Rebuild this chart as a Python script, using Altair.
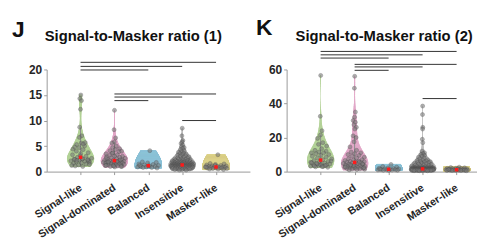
import json
import numpy as np
import pandas as pd
import altair as alt

CATEGORIES = ["Signal-like", "Signal-dominated", "Balanced", "Insensitive", "Masker-like"]
FILLS = ["#d3e9bf", "#f7d0e4", "#c2e4f1", "#e6e6e6", "#f7f0b8"]
STROKES = ["#b2d296", "#e2a7c7", "#8ec4d8", "#bdbdbd", "#dcd189"]

PANEL_LETTERS = ["J", "K"]
PANEL_TITLES = ["Signal-to-Masker ratio (1)", "Signal-to-Masker ratio (2)"]

# ---- Panel J values ----
J_SIGNAL_LIKE = [15.0, 14.3, 13.9, 12.2, 8.7, 7.0, 6.7, 5.7, 5.6, 5.3, 5.0, 4.7, 4.4, 4.3,
                 4.0, 3.7, 3.5, 3.3, 3.0, 2.8, 2.6, 2.5, 2.4, 2.3, 2.2, 2.1, 2.0, 1.9, 1.8,
                 1.7, 1.6, 1.5, 1.3, 1.2, 1.0, 2.4, 2.0, 3.1, 4.8, 5.4, 2.2, 1.4, 2.5, 1.1, 2.3]
J_SIGNAL_DOM = [12.0, 8.2, 6.6, 5.8, 5.6, 5.0, 4.7, 4.5, 4.3, 4.1, 3.9, 3.7, 3.5, 3.3, 3.2,
                3.0, 3.0, 2.9, 2.8, 2.7, 2.6, 2.5, 2.4, 2.3, 2.2, 2.2, 2.1, 2.1, 2.0, 2.0,
                1.9, 1.9, 1.8, 1.8, 1.8, 1.7, 1.7, 1.6, 1.6, 1.5, 1.5, 1.4, 1.4, 1.3, 1.3,
                1.2, 1.2, 1.1, 1.0, 1.0, 0.9, 2.6, 2.3, 3.6, 4.0, 2.0, 1.9, 1.0, 1.1, 1.2]
J_BALANCED = [4.1, 1.9, 1.8, 1.7, 1.5, 1.4, 1.3, 1.2, 1.1, 1.0, 1.0, 0.9, 0.9, 0.8, 0.8,
              0.7, 1.1, 1.2]
J_INSENSITIVE = [8.5, 7.0, 6.1, 5.8, 5.5, 5.2, 4.9, 4.7, 4.5, 4.3, 4.1, 3.9, 3.8, 3.6, 3.5,
                 3.4, 3.3, 3.2, 3.1, 3.0, 2.9, 2.8, 2.7, 2.6,
                 2.5, 2.5, 2.4, 2.4, 2.3, 2.3, 2.2, 2.2, 2.1, 2.1, 2.0, 2.0, 2.0, 1.9, 1.9,
                 1.9, 1.8, 1.8, 1.8, 1.7, 1.7, 1.7, 1.7, 1.6, 1.6, 1.6, 1.6, 1.5, 1.5, 1.5,
                 1.5, 1.5, 1.4, 1.4, 1.4, 1.4, 1.4, 1.35, 1.35, 1.35, 1.35,
                 1.25, 1.25, 1.25, 1.25, 1.25, 1.2, 1.2, 1.2, 1.2, 1.2, 1.15, 1.15, 1.15,
                 1.15, 1.15, 1.1, 1.1, 1.1, 1.1, 1.1, 1.05, 1.05, 1.05, 1.05, 1.05, 1.0,
                 1.0, 1.0, 1.0, 1.0, 0.95, 0.95, 0.95, 0.95, 0.9, 0.9, 0.9, 0.9, 0.85,
                 0.85, 0.85, 0.85, 0.8, 0.8, 0.8, 0.8, 0.75, 0.75, 0.75, 0.7, 0.7, 0.7,
                 0.65, 0.65, 0.65, 0.6, 0.6, 0.6, 0.5, 0.5, 0.5, 0.4, 0.4, 0.3, 0.3]
J_MASKER_LIKE = [3.3, 1.6, 1.5, 1.4, 1.3, 1.2, 1.1, 1.1, 1.0, 1.0, 0.9, 0.9, 0.9, 0.8, 0.8,
                 0.8, 0.7, 0.7, 0.7, 0.6, 0.6, 0.5, 0.5, 0.4, 1.2, 0.9]

# ---- Panel K values ----
K_SIGNAL_LIKE = [56.5, 32.5, 24.0, 21.5, 19.5, 17.0, 16.0, 15.0, 13.5, 12.5, 12.0, 11.5, 11.0,
                 11.0, 10.5, 10.0, 9.5, 9.0, 8.5, 8.0, 7.5, 7.0, 6.5, 6.0, 5.8, 5.5, 5.0,
                 4.8, 4.5, 4.2, 4.0, 3.8, 3.5, 3.2, 3.0, 2.8, 2.5, 4.0, 5.2, 3.6, 4.6, 6.2,
                 2.9, 3.3]
K_SIGNAL_DOM = [56.0, 49.0, 35.0, 32.0, 30.0, 29.0, 27.5, 26.0, 25.0, 21.0, 20.0, 17.5, 14.5,
                12.5, 11.5, 11.0, 10.5, 10.0, 9.5, 9.0, 8.5, 8.0, 7.5, 7.0, 6.8, 6.5, 6.2,
                6.0, 5.8, 5.6, 5.4, 5.2, 5.0, 4.8, 4.6, 4.4, 4.2, 4.0, 3.8, 3.6, 3.4, 3.2,
                3.0, 3.0, 2.8, 2.6, 2.5, 2.4, 2.2, 2.0, 2.0, 1.8, 1.6, 1.5, 1.4, 1.2, 1.0,
                4.5, 3.5, 2.8, 5.5, 3.9, 2.3]
K_BALANCED = [4.2, 3.0, 2.6, 2.2, 2.0, 1.8, 1.6, 1.5, 1.3, 1.2, 1.1, 1.0, 1.0, 0.9, 0.8,
              0.8, 0.7, 1.4]
K_INSENSITIVE = [38.5, 33.5, 26.0, 25.0, 19.0, 17.0, 12.0, 11.0, 10.5, 10.0, 9.5, 9.0, 8.5,
                 8.0, 7.5, 7.0, 6.8, 6.5, 6.2, 6.0, 5.8, 5.6, 5.4, 5.2, 5.0, 4.8, 4.6, 4.4,
                 4.2, 4.0, 3.8, 3.6, 3.4, 3.2, 3.0, 2.9, 2.8, 2.7, 2.6, 2.5,
                 2.4, 2.4, 2.3, 2.3, 2.2, 2.2, 2.1, 2.1, 2.0, 2.0, 2.0, 1.9, 1.9, 1.9, 1.8,
                 1.8, 1.8, 1.7, 1.7, 1.7, 1.7, 1.65, 1.65, 1.65, 1.6,
                 1.55, 1.55, 1.55, 1.55, 1.5, 1.5, 1.5, 1.5, 1.45, 1.45, 1.45, 1.45, 1.4,
                 1.4, 1.4, 1.4, 1.35, 1.35, 1.35, 1.35, 1.3, 1.3, 1.3, 1.3, 1.25, 1.25,
                 1.25, 1.25, 1.2, 1.2, 1.2, 1.2, 1.15, 1.15, 1.15, 1.15, 1.1, 1.1, 1.1,
                 1.1, 1.0, 1.0, 1.0, 1.0, 0.95, 0.95, 0.95, 0.9, 0.9, 0.9, 0.85, 0.85,
                 0.85, 0.8, 0.8, 0.8, 0.7, 0.7, 0.7, 0.6, 0.6, 0.6, 0.5, 0.5, 0.5]
K_MASKER_LIKE = [2.6, 2.4, 2.2, 2.0, 1.9, 1.8, 1.7, 1.6, 1.5, 1.4, 1.3, 1.2, 1.2, 1.1, 1.1,
                 1.0, 1.0, 1.0, 0.9, 0.9, 0.9, 0.8, 0.8, 0.8, 0.7, 0.7, 0.6, 0.6, 0.5, 1.5,
                 1.3]

J_GROUPS = [J_SIGNAL_LIKE, J_SIGNAL_DOM, J_BALANCED, J_INSENSITIVE, J_MASKER_LIKE]
K_GROUPS = [K_SIGNAL_LIKE, K_SIGNAL_DOM, K_BALANCED, K_INSENSITIVE, K_MASKER_LIKE]

# significance bars: (from category, to category, height)
J_SIG_FROM = [0, 0, 0, 1, 1, 1, 3]
J_SIG_TO = [4, 3, 2, 4, 3, 2, 4]
J_SIG_Y = [21.4, 20.6, 19.9, 15.2, 14.6, 13.9, 10.0]
K_SIG_FROM = [0, 0, 0, 1, 1, 1, 3]
K_SIG_TO = [4, 3, 2, 4, 3, 2, 4]
K_SIG_Y = [70.6, 68.6, 66.7, 63.0, 61.5, 59.5, 42.9]

J_YTICKS = [0, 5, 10, 15, 20]
K_YTICKS = [0, 20, 40, 60]

# kernel bandwidths per violin
J_BW = [1.5, 1.5, 2.5, 1.3, 2.5]
K_BW = [6.0, 6.0, 5.0, 4.0, 4.0]
HALF_WIDTH = 0.4
FONT = "Liberation Sans"


def kde(vals, bw, grid):
    v = np.asarray(vals, dtype=float)[:, None]
    g = np.asarray(grid, dtype=float)[None, :]
    return np.exp(-0.5 * ((g - v) / bw) ** 2).sum(axis=0)


def build_tables(groups, bws):
    vrows, prows = [], []
    for ci, (vals, bw) in enumerate(zip(groups, bws)):
        lo, hi = min(vals), max(vals)
        grid = np.linspace(lo, hi, 150)
        d = kde(vals, bw, grid)
        dmax = d.max()
        for g, dd in zip(grid, d):
            w = HALF_WIDTH * dd / dmax
            vrows.append({"name": CATEGORIES[ci], "cat": ci, "y": g, "x1": ci - w, "x2": ci + w})
        dv = kde(vals, bw, vals)
        for i, (v, dd) in enumerate(zip(vals, dv)):
            u = (((i + 1) * 0.6180339887) % 1.0) * 2 - 1
            w = HALF_WIDTH * dd / dmax
            prows.append({"name": CATEGORIES[ci], "cat": ci, "value": v, "xj": ci + u * w * 0.85})
    return pd.DataFrame(vrows), pd.DataFrame(prows)


def panel(groups, bws, sig_from, sig_to, sig_y, yticks, ymax, xmax, width,
          letter, title, letter_dx, letter_dy, title_dx, title_dy):
    vdf, pdf = build_tables(groups, bws)
    sdf = pd.DataFrame({"a": sig_from, "b": sig_to, "y": sig_y})
    xscale = alt.Scale(domain=[-1, xmax], nice=False, zero=False)
    yscale = alt.Scale(domain=[0, ymax], nice=False)
    xaxis = alt.Axis(values=list(range(len(CATEGORIES))),
                     labelExpr=json.dumps(CATEGORIES) + "[datum.value]",
                     labelAngle=-33, labelAlign="right", labelBaseline="middle",
                     labelPadding=12, labelOverlap=False, labelFontSize=10.8, title=None)
    yaxis = alt.Axis(values=yticks, title=None, labelPadding=2)

    def X(field):
        return alt.X(field, scale=xscale, axis=xaxis)

    def Y(field):
        return alt.Y(field, scale=yscale, axis=yaxis)

    violins = alt.Chart(vdf).mark_area(orient="horizontal", strokeWidth=0.8).encode(
        x=X("x1:Q"), x2="x2:Q", y=Y("y:Q"),
        fill=alt.Fill("name:N", scale=alt.Scale(domain=CATEGORIES, range=FILLS), legend=None),
        stroke=alt.Stroke("name:N", scale=alt.Scale(domain=CATEGORIES, range=STROKES), legend=None),
        order=alt.Order("y:Q"),
    )
    whisk = alt.Chart(pdf).transform_joinaggregate(
        q1="q1(value)", q3="q3(value)", groupby=["cat"]
    ).transform_calculate(
        lo="datum.q1 - 1.5 * (datum.q3 - datum.q1)",
        hi="datum.q3 + 1.5 * (datum.q3 - datum.q1)",
    ).transform_filter(
        "datum.value >= datum.lo && datum.value <= datum.hi"
    ).transform_aggregate(
        wmin="min(value)", wmax="max(value)", groupby=["cat"]
    ).mark_rule(color="#8c8c8c", strokeWidth=1).encode(
        x=X("cat:Q"), y=Y("wmin:Q"), y2="wmax:Q"
    )
    points = alt.Chart(pdf).mark_circle(
        size=16, color="#7a7a7a", opacity=0.6, stroke="#4a4a4a", strokeWidth=0.6
    ).encode(x=X("xj:Q"), y=Y("value:Q"))
    median = alt.Chart(pdf).mark_square(size=12, color="#ff1a1a", opacity=1).encode(
        x=X("cat:Q"), y=Y("median(value):Q")
    )
    sig = alt.Chart(sdf).mark_rule(color="#333333", strokeWidth=1).encode(
        x=X("a:Q"), x2="b:Q", y=Y("y:Q")
    )
    letter_txt = alt.Chart(pd.DataFrame({"t": [letter]})).mark_text(
        align="left", baseline="alphabetic", fontSize=23, fontWeight="bold",
        font=FONT, color="#111111"
    ).encode(text="t:N", x=alt.value(letter_dx), y=alt.value(letter_dy))
    title_txt = alt.Chart(pd.DataFrame({"t": [title]})).mark_text(
        align="left", baseline="alphabetic", fontSize=14.9, fontWeight="bold",
        font=FONT, color="#111111"
    ).encode(text="t:N", x=alt.value(title_dx), y=alt.value(title_dy))
    return alt.layer(violins, whisk, points, median, sig, letter_txt, title_txt).properties(
        width=width, height=103
    )


pj = panel(J_GROUPS, J_BW, J_SIG_FROM, J_SIG_TO, J_SIG_Y, J_YTICKS, 20, 5, 205,
           PANEL_LETTERS[0], PANEL_TITLES[0], -35, -33, -2, -29)
pk = panel(K_GROUPS, K_BW, K_SIG_FROM, K_SIG_TO, K_SIG_Y, K_YTICKS, 60, 4.6, 192,
           PANEL_LETTERS[1], PANEL_TITLES[1], -31, -35, 9, -29)

chart = alt.hconcat(pj, pk, spacing=6).properties(
    padding={"left": 4, "top": 8, "right": 0, "bottom": 0}
).configure_view(stroke=None).configure_axis(
    grid=False, domainColor="#9a9a9a", tickColor="#9a9a9a", tickSize=3,
    labelFont=FONT, labelFontSize=12, labelFontWeight="bold", labelColor="#262626",
)

chart.save("out.html", embed_options={"renderer": "svg", "actions": False})
